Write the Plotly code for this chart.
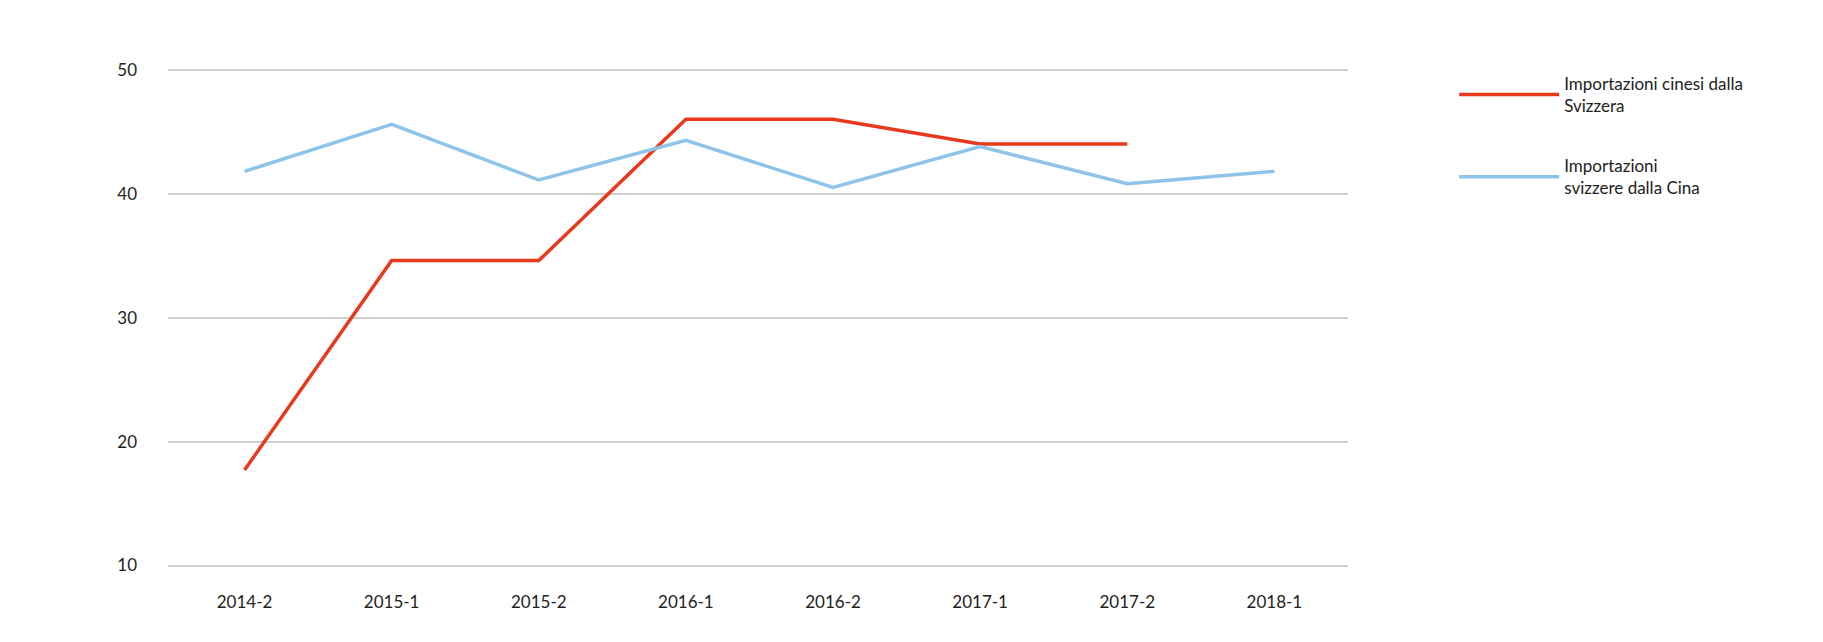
import plotly.graph_objects as go

periods = ["2014-2", "2015-1", "2015-2", "2016-1", "2016-2", "2017-1", "2017-2", "2018-1"]
cn_from_ch = [17.7, 34.6, 34.6, 46.0, 46.0, 44.0, 44.0, None]
ch_from_cn = [41.8, 45.6, 41.1, 44.3, 40.5, 43.8, 40.8, 41.8]
names = ["Importazioni cinesi dalla<br>Svizzera", "Importazioni<br>svizzere dalla Cina"]

fig = go.Figure()
fig.add_trace(go.Scatter(x=periods, y=cn_from_ch, mode="lines", name=names[0], legendgroup="a",
                         line=dict(color="#e8391d", width=3.5), connectgaps=False))
fig.add_trace(go.Scatter(x=periods, y=ch_from_cn, mode="lines", name=names[1], legendgroup="b",
                         line=dict(color="#8ec3ea", width=3.5)))
fig.update_layout(
    width=1823, height=642, plot_bgcolor="white", paper_bgcolor="white",
    margin=dict(l=160, r=483, t=58, b=82),
    font=dict(family="Lato", size=17, color="#222"),
    showlegend=True,
    legend=dict(x=1.09, y=1.0, xanchor="left", yanchor="top", font=dict(size=17),
                itemwidth=100, tracegroupgap=35),
    xaxis=dict(type="category", range=[-0.52, 7.5], showgrid=False, showline=False,
               ticks="", ticklabelstandoff=22),
    yaxis=dict(range=[9.8, 50.3], tickvals=[10, 20, 30, 40, 50], ticksuffix="%",
               gridcolor="#d0d0d0", gridwidth=2,
               zeroline=False, showline=False, ticklabelstandoff=30),
)
fig.write_html("out.html")
